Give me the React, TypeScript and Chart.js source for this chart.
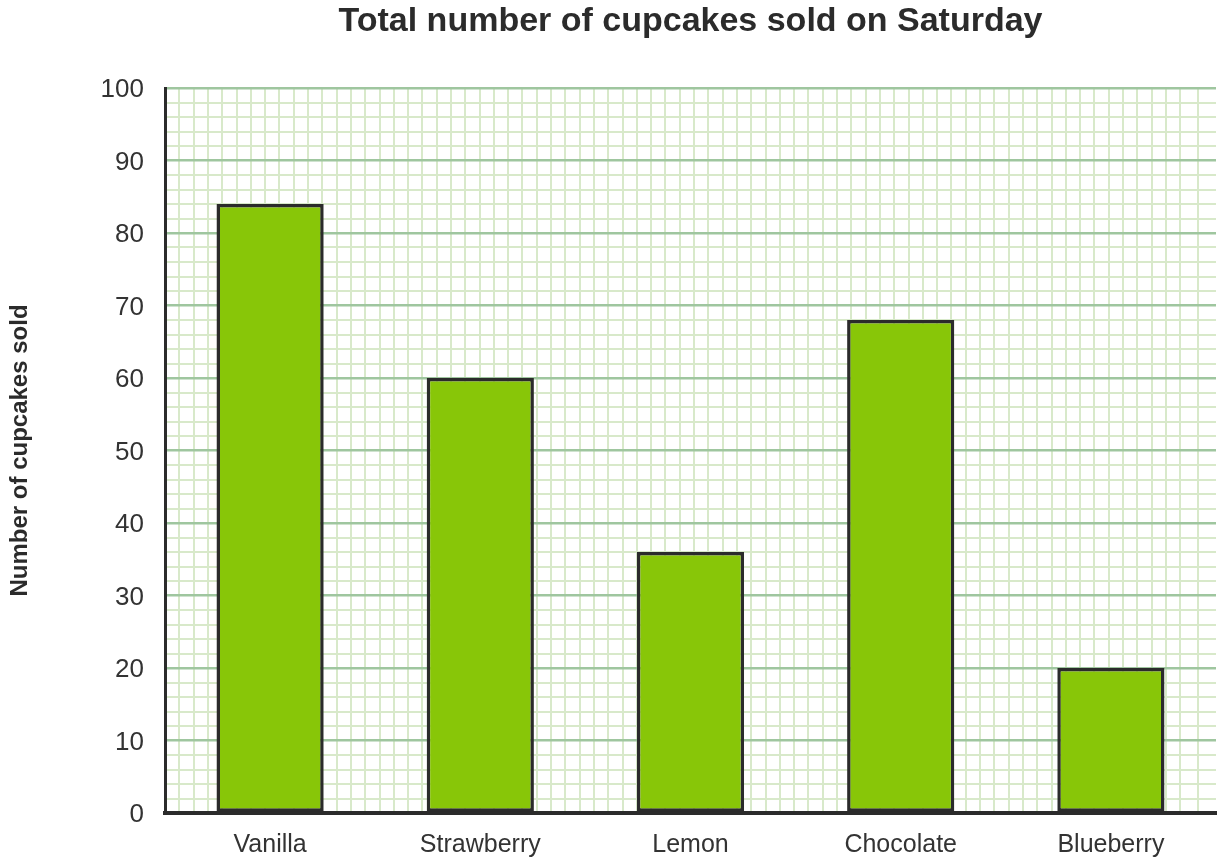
import { useEffect, useRef } from "react"
import { Chart, registerables } from "chart.js"

Chart.register(...registerables)

const flavours = ["Vanilla", "Strawberry", "Lemon", "Chocolate", "Blueberry"]
const cupcakesSold = [84, 60, 36, 68, 20]
const yTicks = [0, 10, 20, 30, 40, 50, 60, 70, 80, 90, 100]

const FONT = "'Liberation Sans', Arial, sans-serif"
const TITLE = "Total number of cupcakes sold on Saturday"

// title centred over the plot area rather than the canvas
const plotTitle = {
  id: "plotTitle",
  afterDraw(chart: Chart) {
    const { ctx, chartArea } = chart
    ctx.save()
    ctx.font = `bold 34px ${FONT}`
    ctx.fillStyle = "#2b2b2b"
    ctx.textAlign = "center"
    ctx.textBaseline = "middle"
    ctx.fillText(TITLE, (chartArea.left + chartArea.right) / 2, 22)
    ctx.restore()
  },
}

export default function App() {
  const chartRef = useRef<HTMLCanvasElement>(null)
  const chartInstance = useRef<Chart | null>(null)

  useEffect(() => {
    if (!chartRef.current) return
    if (chartInstance.current) chartInstance.current.destroy()

    chartInstance.current = new Chart(chartRef.current, {
      type: "bar",
      data: {
        labels: flavours,
        datasets: [
          {
            label: "Cupcakes sold",
            data: cupcakesSold,
            backgroundColor: "#88c608",
            borderColor: "#2b2b2b",
            borderWidth: 3.5,
            borderSkipped: false,
            barPercentage: 0.51,
            categoryPercentage: 1,
          },
        ],
      },
      options: {
        animation: false,
        responsive: true,
        maintainAspectRatio: false,
        layout: { padding: { top: 88, right: 8, left: 0, bottom: 0 } },
        plugins: {
          legend: { display: false },
          title: { display: false },
          tooltip: { enabled: false },
        },
        scales: {
          x: {
            type: "category",
            offset: true,
            z: 0,
            grid: { display: false, drawTicks: false },
            border: { display: true, color: "#2b2b2b", width: 4 },
            ticks: {
              color: "#333333",
              font: { family: FONT, size: 25 },
              padding: 17,
            },
            afterFit(scale: any) {
              scale.height = 53
            },
          },
          xGrid: {
            type: "linear",
            position: "bottom",
            min: 0,
            max: 72.5,
            z: -2,
            ticks: { display: false, stepSize: 1 },
            grid: { color: "#d8e9ca", lineWidth: 2, drawTicks: false },
            border: { display: false },
            afterFit(scale: any) {
              scale.height = 0
            },
          },
          y: {
            min: 0,
            max: 100,
            z: -1,
            ticks: {
              stepSize: 2,
              autoSkip: false,
              color: "#333333",
              font: { family: FONT, size: 26 },
              padding: 21,
              labelOffset: 2,
              callback: (v: any) => (yTicks.includes(Number(v)) ? String(v) : ""),
            },
            grid: {
              drawTicks: false,
              color: (c: any) => (c.tick && c.tick.value % 10 === 0 ? "#9fc69f" : "#d8e9ca"),
              lineWidth: (c: any) => (c.tick && c.tick.value % 10 === 0 ? 2.5 : 2),
            },
            border: { display: true, color: "#2b2b2b", width: 3 },
            title: {
              display: true,
              text: "Number of cupcakes sold",
              color: "#2b2b2b",
              font: { family: FONT, size: 24, weight: "bold" },
              padding: { top: 6, bottom: 0 },
            },
            afterFit(scale: any) {
              scale.width = 165
            },
          },
        },
      },
      plugins: [plotTitle],
    })

    return () => {
      if (chartInstance.current) {
        chartInstance.current.destroy()
        chartInstance.current = null
      }
    }
  }, [])

  return (
    <div style={{ position: "absolute", left: 0, top: 0, width: 1224, height: 866, background: "#fff" }}>
      <canvas ref={chartRef} />
    </div>
  )
}
